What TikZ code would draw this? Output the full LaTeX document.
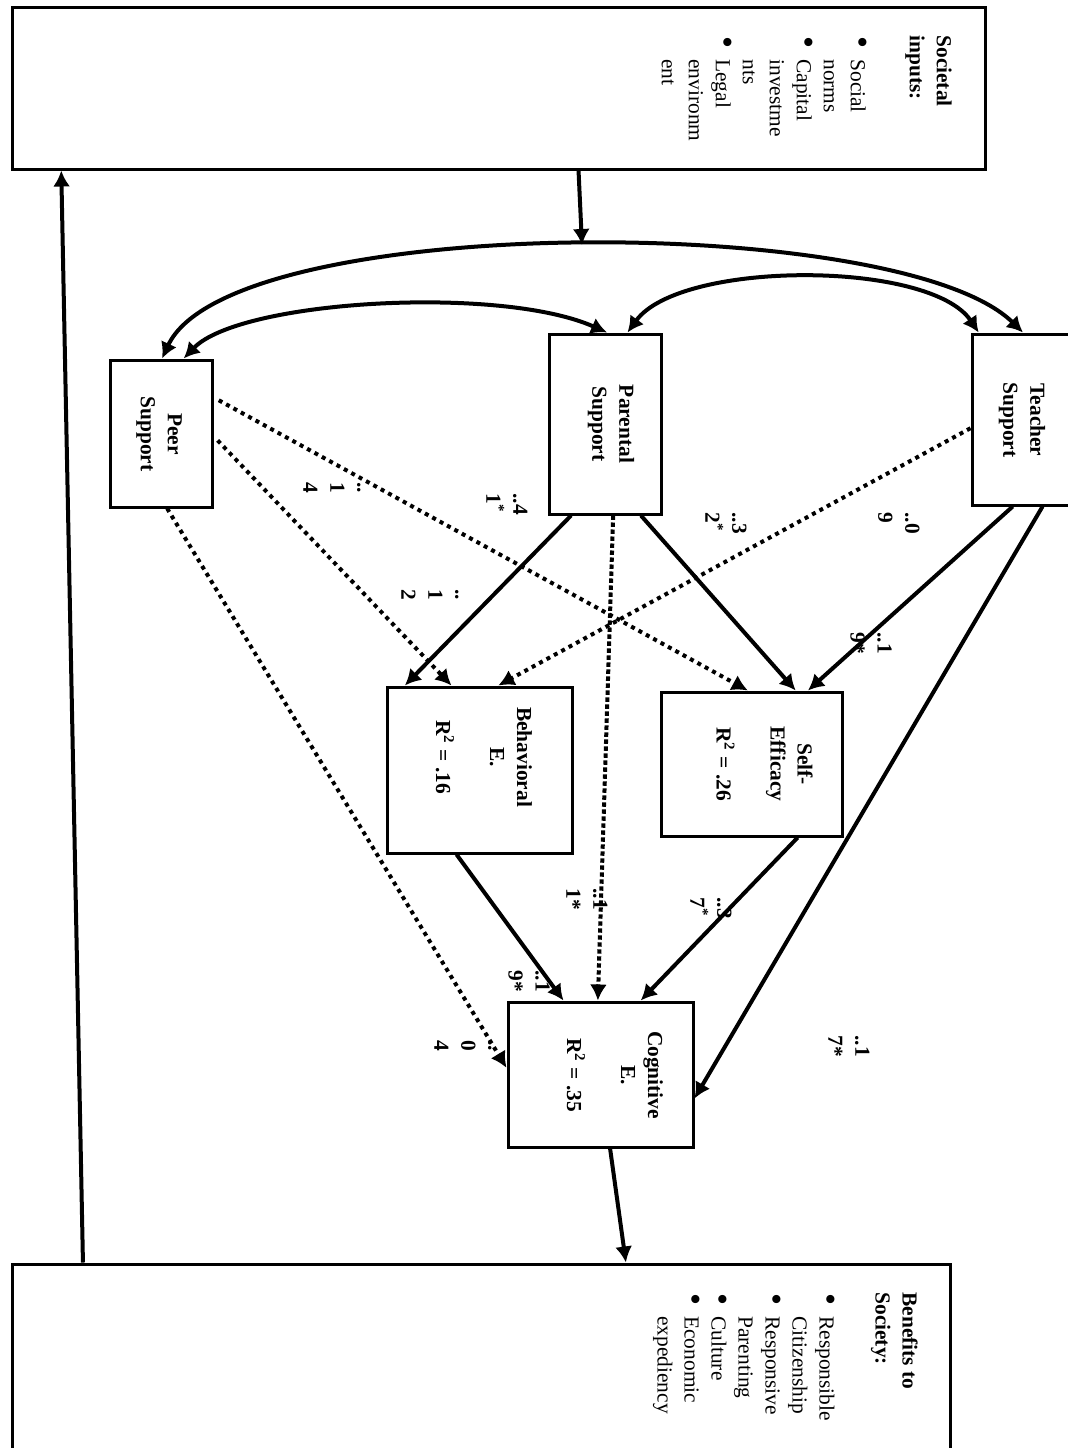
\documentclass[tikz,border=0pt]{standalone}
\usepackage{fontspec}
\setmainfont{Liberation Serif}
\usetikzlibrary{arrows.meta,calc}
\newcommand\lbul{\makebox[12pt][l]{\hspace{0.3pt}\raisebox{0.2pt}{\scalebox{1.6}{\textbullet}}}}
\newcommand\lind{\hspace*{12pt}}
\begin{document}
\begin{tikzpicture}[x=0.5pt,y=-0.5pt,
  box/.style={draw, line width=1.5pt, rectangle, inner sep=0pt},
  rtext/.style={rotate=-90, inner sep=0pt, font=\fontsize{10.7}{13.5}\selectfont\bfseries, align=center},
  lab/.style={rotate=-90, inner sep=0pt, font=\fontsize{10.7}{13.5}\selectfont\bfseries, align=left, anchor=west},
  listtext/.style={rotate=-90, inner sep=0pt, font=\fontsize{10.7}{13.5}\selectfont, align=left, anchor=north west},
  arr/.style={line width=2pt, -{Latex[length=8pt,width=8.5pt]}},
  dotarr/.style={arr, dash pattern=on 2pt off 2.2pt},
  biarr/.style={line width=2pt, {Latex[length=8pt,width=8.5pt]}-{Latex[length=8pt,width=8.5pt]}}
]
\useasboundingbox (0,0) rectangle (1068,1448);
\clip (0,0) rectangle (1068,1448);

% boxes
\node[box, minimum width=486.5pt, minimum height=81pt] (soc) at (498.5,88) {};
\node[box, minimum width=469pt, minimum height=103pt] (ben) at (481,1367) {};
\node[box, minimum width=51pt, minimum height=85.5pt] (teach) at (1023,419.5) {};
\node[box, minimum width=56pt, minimum height=90pt] (par) at (605,424) {};
\node[box, minimum width=51pt, minimum height=73.5pt] (peer) at (161,433.5) {};
\node[box, minimum width=92.5pt, minimum height=83pt] (beh) at (479.5,770) {};
\node[box, minimum width=90.5pt, minimum height=72pt] (se) at (751.5,764) {};
\node[box, minimum width=92.5pt, minimum height=72.5pt] (cog) at (600.5,1074.5) {};

% list texts
\node[listtext] (soct) at (952,35) {\textbf{Societal}\\\textbf{inputs:}\\[16pt]\lbul Social\\\lind norms\\\lbul Capital\\\lind investme\\\lind nts\\\lbul Legal\\\lind environm\\\lind ent};
\node[listtext] (bent) at (918,1292) {\textbf{Benefits to}\\\textbf{Society:}\\[14.5pt]\lbul Responsible\\\lind Citizenship\\\lbul Responsive\\\lind Parenting\\\lbul Culture\\\lbul Economic\\\lind expediency};

% box texts
\node[rtext] (teacht) at (1022,420) {Teacher\\Support};
\node[rtext] (part) at (611,424) {Parental\\Support};
\node[rtext] (peert) at (159,434) {Peer\\Support};
\node[rtext] (beht) at (484,757) {Behavioral\\E.\\[13.5pt]R\textsuperscript{2} = .16};
\node[rtext] (set) at (764.5,764) {Self-\\Efficacy\\[13.5pt]R\textsuperscript{2} = .26};
\node[rtext] (cogt) at (615,1075) {Cognitive\\E.\\[13.5pt]R\textsuperscript{2} = .35};

% coefficient labels
\node[lab] (l1) at (899,512) {..0\\9};
\node[lab] (l2) at (726,512) {..3\\2\textsuperscript{*}};
\node[lab] (l3) at (507,493) {..4\\1\textsuperscript{*}};
\node[lab] (l4) at (332,482) {..\\1\\4};
\node[lab] (l5) at (430,589) {..\\1\\2};
\node[lab] (l6) at (871,632) {..1\\9*};
\node[lab] (l7) at (711,897) {..3\\7\textsuperscript{*}};
\node[lab] (l8) at (587,888) {..1\\1*};
\node[lab] (l9) at (529,970) {..1\\9*};
\node[lab] (l10) at (463,1040) {..\\0\\4};
\node[lab] (l11) at (849,1035) {..1\\7*};

% correlations
\draw[biarr] ($(peer.north west)!0.51!(peer.north east)$) .. controls (230,212) and (900,212) .. ($(teach.north west)!0.5!(teach.north east)$);
\draw[biarr] ($(peer.north west)!0.716!(peer.north east)$) .. controls (240,300) and (500,285) .. ($(par.north west)!0.518!(par.north east)$);
\draw[biarr] ($(par.north west)!0.696!(par.north east)$) .. controls (680,260) and (930,260) .. ($(teach.north west)!0.078!(teach.north east)$);

% societal loop
\coordinate (arcpt) at (582,245);
\draw[arr] ($(soc.south west)!0.582!(soc.south east)$) -- (arcpt);
\draw[arr] ($(ben.north west)!0.077!(ben.north east)$) -- ($(soc.south west)!0.052!(soc.south east)$);
\draw[arr] ($(cog.south west)!0.551!(cog.south east)$) -- ($(ben.north west)!0.654!(ben.north east)$);

% solid paths
\draw[arr] ($(par.south west)!0.205!(par.south east)$) -- ($(beh.north west)!0.103!(beh.north east)$);
\draw[arr] ($(par.south west)!0.8125!(par.south east)$) -- ($(se.north west)!0.74!(se.north east)$);
\draw[arr] ($(teach.south west)!0.402!(teach.south east)$) -- ($(se.north west)!0.807!(se.north east)$);
\draw[arr] ($(teach.south west)!0.686!(teach.south east)$) -- ($(cog.north east)!0.662!(cog.south east)$);
\draw[arr] ($(se.south west)!0.751!(se.south east)$) -- ($(cog.north west)!0.714!(cog.north east)$);
\draw[arr] ($(beh.south west)!0.378!(beh.south east)$) -- ($(cog.north west)!0.303!(cog.north east)$);

% dotted paths
\draw[dotarr, dash pattern=on 2.2pt off 1.3pt] ($(par.south west)!0.571!(par.south east)$) -- ($(cog.north west)!0.486!(cog.north east)$);
\draw[dotarr] ($(teach.north west)!0.55!(teach.south west)$) -- ($(beh.north west)!0.6!(beh.north east)$);
\draw[dotarr, shorten <=3pt] ($(peer.north east)!0.259!(peer.south east)$) -- ($(se.north west)!0.48!(se.north east)$);
\draw[dotarr, shorten <=3pt] ($(peer.north east)!0.517!(peer.south east)$) -- ($(beh.north west)!0.351!(beh.north east)$);
\draw[dotarr] ($(peer.south west)!0.559!(peer.south east)$) -- ($(cog.north west)!0.455!(cog.south west)$);
\end{tikzpicture}
\end{document}
